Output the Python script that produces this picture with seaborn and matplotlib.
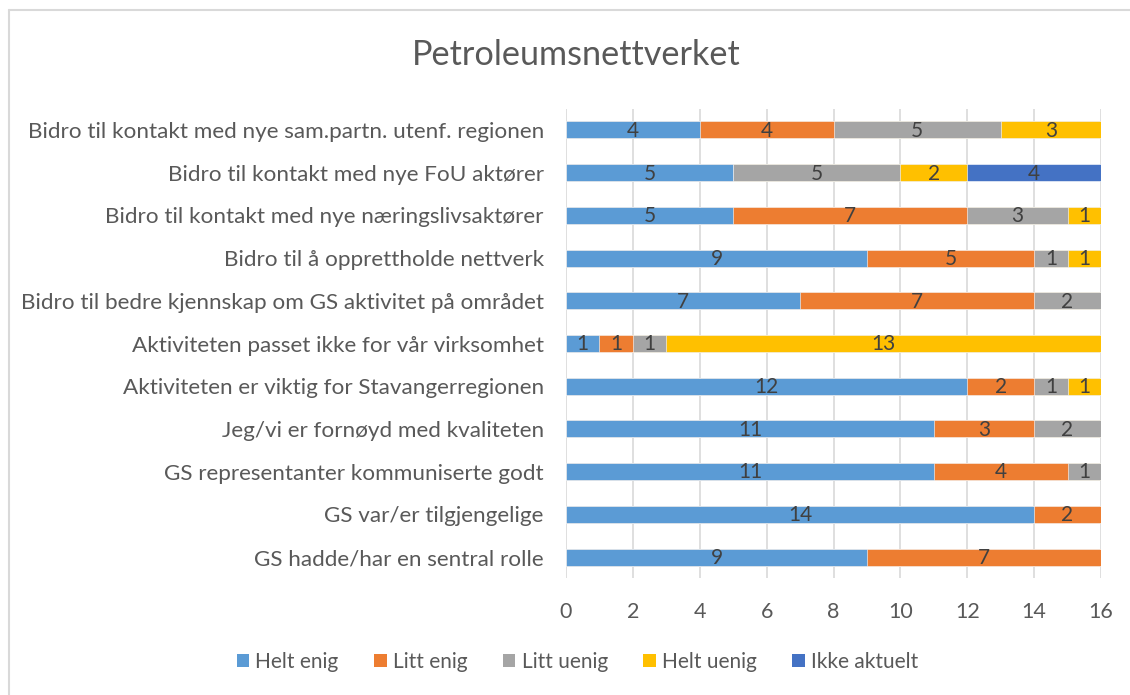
import numpy as np
import pandas as pd
import matplotlib
matplotlib.use("Agg")
import matplotlib.pyplot as plt
import seaborn as sns
from matplotlib.patches import Patch
from matplotlib.lines import Line2D

categories = [
    "Bidro til kontakt med nye sam.partn. utenf. regionen",
    "Bidro til kontakt med nye FoU aktører",
    "Bidro til kontakt med nye næringslivsaktører",
    "Bidro til å opprettholde nettverk",
    "Bidro til bedre kjennskap om GS aktivitet på området",
    "Aktiviteten passet ikke for vår virksomhet",
    "Aktiviteten er viktig for Stavangerregionen",
    "Jeg/vi er fornøyd med kvaliteten",
    "GS representanter kommuniserte godt",
    "GS var/er tilgjengelige",
    "GS hadde/har en sentral rolle",
]
helt_enig    = [4, 5, 5, 9, 7, 1, 12, 11, 11, 14, 9]
litt_enig    = [4, 0, 7, 5, 7, 1, 2, 3, 4, 2, 7]
litt_uenig   = [5, 5, 3, 1, 2, 1, 1, 2, 1, 0, 0]
helt_uenig   = [3, 2, 1, 1, 0, 13, 1, 0, 0, 0, 0]
ikke_aktuelt = [0, 4, 0, 0, 0, 0, 0, 0, 0, 0, 0]

series_names = ["Helt enig", "Litt enig", "Litt uenig", "Helt uenig", "Ikke aktuelt"]
series_vals = [helt_enig, litt_enig, litt_uenig, helt_uenig, ikke_aktuelt]
colors = ["#5B9BD5", "#ED7D31", "#A5A5A5", "#FFC000", "#4472C4"]
x_ticks = [0, 2, 4, 6, 8, 10, 12, 14, 16]
title = "Petroleumsnettverket"

sns.set_theme(style="white")
plt.rcParams["font.family"] = ["Lato", "DejaVu Sans"]

fig = plt.figure(figsize=(11.3, 6.95), dpi=100)
ax = fig.add_axes([566 / 1130, 1 - 578.4 / 695, (1101 - 566) / 1130, (578.4 - 108.6) / 695])

vals = np.array(series_vals, dtype=float)
cum = np.cumsum(vals, axis=0)
starts = cum - vals

# draw cumulative bars from the largest total down so that each segment shows
for i in range(len(series_names) - 1, -1, -1):
    df = pd.DataFrame({"cat": categories, "val": cum[i]})
    sns.barplot(data=df, x="val", y="cat", orient="h", color=colors[i],
                width=0.4, saturation=1, ax=ax, edgecolor="white", linewidth=0.4,
                zorder=3)

# data labels
for i in range(len(series_names)):
    for j in range(len(categories)):
        v = vals[i, j]
        if v > 0:
            ax.text(starts[i, j] + v / 2, j + 0.02, f"{int(v)}", ha="center", va="center",
                    fontsize=15, color="#404040", zorder=5)

ax.set_xlim(0, 16)
ax.set_ylim(len(categories) - 0.5, -0.5)
ax.set_xticks(x_ticks)
ax.set_xticklabels([str(t) for t in x_ticks])
ax.set_xlabel("")
ax.set_ylabel("")
ax.grid(axis="x", color="#D9D9D9", linewidth=1.2, zorder=0)
ax.grid(axis="y", visible=False)
for s in ax.spines.values():
    s.set_visible(False)
ax.tick_params(axis="x", length=0, pad=17, labelsize=15.5, labelcolor="#595959")
ax.tick_params(axis="y", length=0, pad=16, labelsize=16.2, labelcolor="#595959")
ax.set_axisbelow(True)

fig.text(576 / 1130, 1 - 55 / 695, title, ha="center", va="center", fontsize=24.7, color="#595959")

handles = [Patch(facecolor=c, edgecolor="none") for c in colors]
fig.legend(handles, series_names, loc="center", bbox_to_anchor=(0.511, 1 - 662 / 695),
           ncol=5, frameon=False, fontsize=15, labelcolor="#595959",
           handlelength=0.6, handleheight=0.6, handletextpad=0.3, columnspacing=1.7)

# chart border (left and top visible)
fig.add_artist(Line2D([9 / 1130, 9 / 1130], [0, 1 - 10 / 695], transform=fig.transFigure,
                      color="#D9D9D9", linewidth=1.5))
fig.add_artist(Line2D([9 / 1130, 1], [1 - 10 / 695, 1 - 10 / 695], transform=fig.transFigure,
                      color="#D9D9D9", linewidth=1.5))

fig.savefig("out.png", dpi=100, facecolor="white")
